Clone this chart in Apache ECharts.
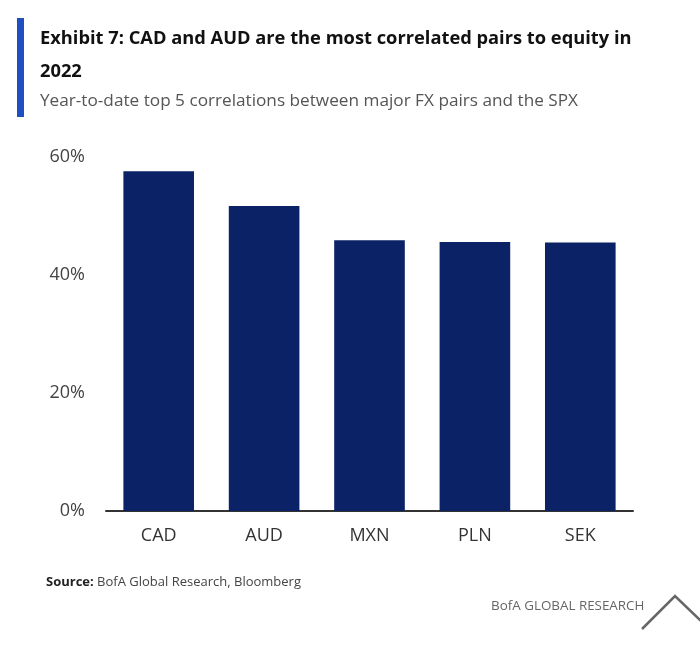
<!DOCTYPE html>
<html lang="en" style="height: 100%">
<head>
  <meta charset="utf-8">
</head>
<body style="height: 100%; margin: 0; background: #fff">
  <div id="container" style="width: 700px; height: 649px"></div>
  <script src="https://cdn.jsdelivr.net/npm/echarts@6/dist/echarts.min.js"></script>
  <script type="text/javascript">
    var categories = ['CAD', 'AUD', 'MXN', 'PLN', 'SEK'];
    var correlations = [57.6, 51.7, 45.9, 45.6, 45.5];
    var yTicks = [0, 20, 40, 60];

    var font = '"Open Sans", "Liberation Sans", sans-serif';
    var myChart = echarts.init(document.getElementById('container'), null, { renderer: 'canvas' });

    var option = {
      backgroundColor: '#fff',
      animation: false,
      title: [
        {
          text: 'Exhibit 7: CAD and AUD are the most correlated pairs to equity in\n2022',
          left: 35, top: 17,
          textStyle: { fontFamily: font, fontWeight: 'bold', fontSize: 18.3, color: '#111', lineHeight: 33 }
        },
        {
          text: 'Year-to-date top 5 correlations between major FX pairs and the SPX',
          left: 35, top: 88,
          textStyle: { fontFamily: font, fontWeight: 'normal', fontSize: 17.2, color: '#555' }
        }
      ],
      grid: { left: 106, right: 67, top: 157, bottom: 138 },
      xAxis: {
        type: 'category',
        data: categories,
        axisTick: { show: false },
        axisLine: { lineStyle: { color: '#333', width: 2 } },
        axisLabel: { fontFamily: font, fontSize: 18, color: '#333', margin: 16 }
      },
      yAxis: {
        type: 'value',
        min: yTicks[0],
        max: yTicks[yTicks.length - 1],
        interval: 20,
        splitLine: { show: false },
        axisLine: { show: false },
        axisTick: { show: false },
        axisLabel: {
          fontFamily: font, fontSize: 18, color: '#444', margin: 21,
          formatter: function (v) { return v + '%'; }
        }
      },
      series: [{
        type: 'bar',
        data: correlations,
        barWidth: '67%',
        itemStyle: { color: '#0b2266' }
      }],
      graphic: [
        { type: 'rect', shape: { x: 17, y: 18, width: 7, height: 99 }, style: { fill: '#1f4fc0' } },
        {
          type: 'text', left: 46, top: 576,
          style: {
            text: '{b|Source:} BofA Global Research, Bloomberg',
            rich: {
              b: { fontFamily: font, fontWeight: 'bold', fontSize: 13, fill: '#222' }
            },
            fontFamily: font, fontSize: 13, fill: '#444'
          }
        },
        {
          type: 'text', left: 491, top: 600,
          style: { text: 'BofA GLOBAL RESEARCH', fontFamily: font, fontSize: 13.4, fill: '#666' }
        },
        {
          type: 'polyline',
          shape: { points: [[642, 629], [675, 596], [702, 622]] },
          style: { stroke: '#666', lineWidth: 2.5, fill: null }
        }
      ]
    };
    myChart.setOption(option);
    window.addEventListener('resize', myChart.resize);
  </script>
</body>
</html>
